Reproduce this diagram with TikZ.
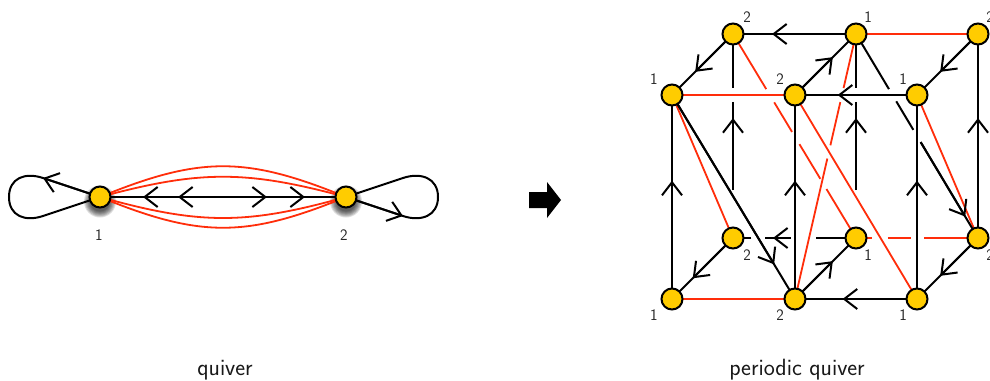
\documentclass[tikz,border=0pt]{standalone}
\usetikzlibrary{calc,arrows.meta}
\definecolor{qred}{RGB}{255,45,10}
\definecolor{qyel}{RGB}{255,204,0}
\tikzset{x=1pt,y=-1pt,
 qn/.style={circle,draw=black,line width=2pt,fill=qyel,minimum size=21pt,inner sep=0pt},
 blk/.style={draw=black,line width=2pt},
 rd/.style={draw=qred,line width=1.8pt},
 arr/.style={blk,-{Straight Barb[length=13pt,width=20pt,line width=2pt]}},
 lab/.style={font=\sffamily\fontsize{16}{16}\selectfont,text=black!85,inner sep=0pt},
 captxt/.style={font=\sffamily\fontsize{23.5}{24}\selectfont,text=black!90,inner sep=0pt}}
\newcommand{\qseg}[5][blk]{\draw[#1] ($(#2)!#4!(#3)$) -- ($(#2)!#5!(#3)$);}
\begin{document}
\begin{tikzpicture}
\useasboundingbox[clip] (0,0) rectangle (990,380);
\fill[white] (0,0) rectangle (990,380);
% shadows
\foreach \c in {100,346}{
 \foreach \r in {16,15,...,10}{\fill[black,opacity=.13] (\c,201.5) circle (\r);}
}
\coordinate (n1) at (100,197);
\coordinate (n2) at (346,197);
% left quiver
\draw[rd] (n1) .. controls (200,156) and (246,156) .. (n2);
\draw[rd] (n1) .. controls (200,170) and (246,170) .. (n2);
\draw[rd] (n1) .. controls (200,225) and (246,225) .. (n2);
\draw[rd] (n1) .. controls (200,238) and (246,238) .. (n2);
\draw[blk] (n1) -- (n2);
\draw[arr] (n2) -- (143,197);
\draw[arr] (n2) -- (178,197);
\draw[arr] (n1) -- (267,197);
\draw[arr] (n1) -- (305,197);
\draw[blk] (n1) -- (43,178) .. controls (25,172) and (9,178) .. (9,197) .. controls (9,216) and (25,222) .. (43,216) -- (n1);
\draw[arr] (n1) -- (43,178);
\draw[blk] (n2) -- (403,178) .. controls (421,172) and (438,178) .. (438,197) .. controls (438,216) and (421,222) .. (403,216) -- (n2);
\draw[arr] (n2) -- (403,216);
\node[qn] (q1) at (n1) {};
\node[qn] (q2) at (n2) {};
\node[lab] at (99,235) {1};
\node[lab] at (344,235) {2};
% block arrow
\fill[black] (529,192) -- (547,192) -- (547,182) -- (561,200) -- (547,218) -- (547,208) -- (529,208) -- cycle;
% lattice coordinates
\coordinate (A) at (733,34);\coordinate (B) at (856,34);\coordinate (C) at (978,34);
\coordinate (D) at (672,95);\coordinate (E) at (795,95);\coordinate (F) at (917,95);
\coordinate (G) at (733,238);\coordinate (H) at (856,238);\coordinate (I) at (978,238);
\coordinate (J) at (672,299);\coordinate (K) at (795,299);\coordinate (L) at (917,299);
% red
\draw[rd] (B) -- (C);
\draw[rd] (D) -- (E);
\draw[rd] (J) -- (K);
\draw[rd] (D) -- (G);
\draw[rd] (F) -- (I);
\draw[rd] (E) -- (L);
\qseg[rd]{H}{I}{0}{.134}
\qseg[rd]{H}{I}{.262}{.45}
\qseg[rd]{H}{I}{.56}{1}
\qseg[rd]{A}{H}{0}{.27}
\qseg[rd]{A}{H}{.335}{.48}
\qseg[rd]{A}{H}{.54}{.71}
\qseg[rd]{A}{H}{.76}{1}
\qseg[rd]{B}{K}{0}{.204}
\qseg[rd]{B}{K}{.257}{.42}
\qseg[rd]{B}{K}{.47}{1}
% black
\draw[blk] (B) -- (A); \draw[arr] (B) -- ($(B)!.683!(A)$);
\draw[blk] (A) -- (D); \draw[arr] (A) -- ($(A)!.62!(D)$);
\draw[blk] (C) -- (F); \draw[arr] (C) -- ($(C)!.62!(F)$);
\draw[blk] (E) -- (B); \draw[arr] (E) -- ($(E)!.62!(B)$);
\draw[blk] (F) -- (E); \draw[arr] (F) -- ($(F)!.65!(E)$);
\draw[blk] (L) -- (K); \draw[arr] (L) -- ($(L)!.61!(K)$);
\draw[blk] (J) -- (D); \draw[arr] (J) -- ($(J)!.58!(D)$);
\draw[blk] (K) -- (E); \draw[arr] (K) -- ($(K)!.58!(E)$);
\draw[blk] (L) -- (F); \draw[arr] (L) -- ($(L)!.58!(F)$);
\draw[blk] (I) -- (C); \draw[arr] (I) -- ($(I)!.588!(C)$);
\draw[blk] (G) -- (J); \draw[arr] (G) -- ($(G)!.66!(J)$);
\draw[blk] (K) -- (H); \draw[arr] (K) -- ($(K)!.62!(H)$);
\draw[blk] (I) -- (L); \draw[arr] (I) -- ($(I)!.62!(L)$);
\draw[blk] (D) -- (K); \draw[arr] (D) -- ($(D)!.83!(K)$);
\qseg{A}{G}{0}{.265}
\qseg{A}{G}{.333}{.765}
\qseg[arr]{A}{G}{.765}{.412}
\qseg{A}{G}{.945}{1}
\qseg{B}{H}{0}{.265}
\qseg{B}{H}{.333}{.765}
\qseg[arr]{B}{H}{.765}{.412}
\qseg{H}{G}{0}{.325}
\qseg{H}{G}{.53}{.74}
\qseg[arr]{H}{G}{.53}{.675}
\qseg{H}{G}{.85}{1}
\qseg{B}{I}{0}{.27}
\qseg{B}{I}{.33}{.47}
\qseg{B}{I}{.53}{1}
\qseg[arr]{B}{I}{.53}{.895}
% nodes
\foreach \n in {A,...,L}{\node[qn] (v\n) at (\n) {};}
\node[lab] at (747,17) {2};
\node[lab] at (868,17) {1};
\node[lab] at (990,17) {2};
\node[lab] at (654,79) {1};
\node[lab] at (780,79) {2};
\node[lab] at (903,79) {1};
\node[lab] at (747,255) {2};
\node[lab] at (868,255) {1};
\node[lab] at (990,255) {2};
\node[lab] at (654,315) {1};
\node[lab] at (780,315) {2};
\node[lab] at (903,315) {1};
\node[captxt] at (225,370) {quiver};
\node[captxt] at (797,370) {periodic quiver};
\end{tikzpicture}
\end{document}
